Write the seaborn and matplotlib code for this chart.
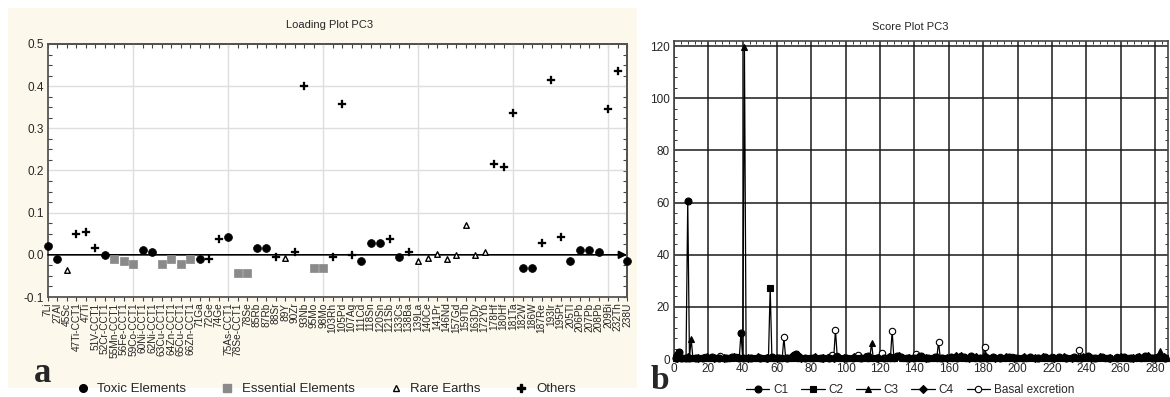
import numpy as np
import pandas as pd
import matplotlib
matplotlib.use("Agg")
import matplotlib.pyplot as plt
import seaborn as sns
from matplotlib.lines import Line2D
from matplotlib.patches import Rectangle

# ---------------- Panel a data: loadings PC3 ----------------
ELEMENTS = ["7Li", "27Al", "45Sc", "47Ti-CCT1", "47Ti", "51V-CCT1", "52Cr-CCT1", "55Mn-CCT1",
            "56Fe-CCT1", "59Co-CCT1", "60Ni-CCT1", "62Ni-CCT1", "63Cu-CCT1", "64Zn-CCT1",
            "65Cu-CCT1", "66Zn-CCT1", "71Ga", "72Ge", "74Ge", "75As-CCT1", "78Se-CCT1", "78Se",
            "85Rb", "87Rb", "88Sr", "89Y", "90Zr", "93Nb", "95Mo", "98Mo", "103Rh", "105Pd",
            "107Ag", "111Cd", "118Sn", "120Sn", "121Sb", "133Cs", "138Ba", "139La", "140Ce",
            "141Pr", "146Nd", "157Gd", "159Tb", "163Dy", "172Yb", "178Hf", "180Hf", "181Ta",
            "182W", "186W", "187Re", "193Ir", "195Pt", "205Tl", "206Pb", "207Pb", "208Pb",
            "209Bi", "232Th", "238U"]
LOADINGS = [0.021, -0.011, -0.037, 0.049, 0.054, 0.016, 0.000, -0.011,
            -0.015, -0.021, 0.011, 0.006, -0.021, -0.011,
            -0.021, -0.011, -0.011, -0.010, 0.037, 0.043, -0.042, -0.042,
            0.016, 0.016, -0.005, -0.007, 0.007, 0.400, -0.031, -0.031, -0.005, 0.358,
            0.000, -0.015, 0.027, 0.027, 0.038, -0.005, 0.007, -0.015, -0.007,
            0.001, -0.011, 0.000, 0.070, 0.000, 0.007, 0.215, 0.209, 0.336,
            -0.031, -0.031, 0.028, 0.415, 0.042, -0.015, 0.011, 0.011, 0.007,
            0.346, 0.437, -0.015]
GROUPS = ["Toxic Elements", "Toxic Elements", "Rare Earths", "Others", "Others", "Others",
          "Toxic Elements", "Essential Elements", "Essential Elements", "Essential Elements",
          "Toxic Elements", "Toxic Elements", "Essential Elements", "Essential Elements",
          "Essential Elements", "Essential Elements", "Toxic Elements", "Others", "Others",
          "Toxic Elements", "Essential Elements", "Essential Elements", "Toxic Elements",
          "Toxic Elements", "Others", "Rare Earths", "Others", "Others", "Essential Elements",
          "Essential Elements", "Others", "Others", "Others", "Toxic Elements", "Toxic Elements",
          "Toxic Elements", "Others", "Toxic Elements", "Others", "Rare Earths", "Rare Earths",
          "Rare Earths", "Rare Earths", "Rare Earths", "Rare Earths", "Rare Earths", "Rare Earths",
          "Others", "Others", "Others", "Toxic Elements", "Toxic Elements", "Others", "Others",
          "Others", "Toxic Elements", "Toxic Elements", "Toxic Elements", "Toxic Elements",
          "Others", "Others", "Toxic Elements"]
GROUP_ORDER = ["Toxic Elements", "Essential Elements", "Rare Earths", "Others"]

# ---------------- Panel b data: scores PC3 ----------------
C1_CASE = [1, 2, 3, 4, 7, 8, 9, 13, 17, 22, 26, 30, 34, 38, 39, 40, 45, 50, 54, 57, 61, 66, 70, 71,
           72, 76, 81, 86, 90, 95, 100, 104, 109, 113, 118, 122, 126, 130, 132, 136, 140, 144, 148,
           152, 156, 161, 165, 169, 173, 178, 182, 186, 190, 195, 199, 203, 207, 212, 216, 220, 224,
           228, 233, 237, 241, 245, 249, 253, 258, 262, 266, 270, 274, 278, 282, 286]
C1_SCORE = [0.5, 1.5, 2.8, 0.4, 0.3, 60.6, 0.3, 0.5, 0.3, 0.8, 0.4, 0.3, 0.6, 0.4, 10.1, 0.3, 0.5,
            0.3, 0.4, 0.9, 0.3, 0.4, 1.6, 2.0, 1.2, 0.4, 0.3, 0.5, 0.3, 0.6, 0.4, 0.3, 0.5, 1.2, 0.4,
            0.3, 0.6, 1.2, 0.8, 0.4, 0.5, 1.0, 0.4, 0.6, 0.3, 0.8, 0.4, 0.6, 1.0, 0.4, 0.5, 0.8, 0.4,
            0.6, 0.3, 0.5, 0.7, 0.4, 0.6, 0.3, 0.8, 0.4, 0.6, 0.5, 1.0, 0.4, 0.6, 0.3, 0.5, 0.8, 0.4,
            0.6, 1.0, 0.5, 0.7, 0.4]
C2_CASE = [1, 5, 10, 15, 20, 25, 31, 36, 42, 47, 52, 55, 56, 57, 62, 67, 73, 78, 84, 89, 96, 101,
           107, 112, 117, 123, 128, 134, 139, 145, 151, 157, 163, 168, 174, 180, 185, 191, 197, 202,
           208, 214, 219, 225, 231, 236, 242, 247, 253, 259, 264, 270, 275, 281, 286]
C2_SCORE = [0.3, 0.4, 0.2, 0.5, 0.3, 0.4, 0.3, 0.6, 0.3, 0.4, 0.3, 0.5, 27.3, 0.4, 0.3, 0.5, 0.3,
            0.4, 0.3, 0.5, 0.3, 0.4, 0.3, 0.5, 0.3, 0.4, 0.3, 0.5, 0.3, 0.4, 0.3, 0.5, 0.3, 0.4, 0.3,
            0.5, 0.3, 0.4, 0.3, 0.5, 0.3, 0.4, 0.3, 0.5, 0.3, 0.4, 0.3, 0.5, 0.3, 0.4, 0.3, 0.5, 0.3,
            0.4, 0.3]
C3_CASE = [1, 6, 9, 10, 11, 16, 21, 27, 33, 37, 40, 41, 42, 48, 53, 59, 65, 69, 75, 80, 85, 91, 97,
           102, 108, 114, 115, 116, 121, 127, 133, 138, 143, 149, 155, 160, 166, 171, 177, 183, 188,
           194, 200, 205, 211, 217, 222, 228, 234, 239, 245, 251, 256, 262, 268, 273, 279, 282, 283,
           284, 287]
C3_SCORE = [0.2, 0.3, 0.4, 7.8, 0.3, 0.2, 0.4, 0.3, 0.2, 0.4, 0.3, 119.8, 0.3, 0.2, 0.4, 0.3, 0.2,
            0.4, 0.3, 0.2, 0.4, 0.3, 0.2, 0.4, 0.3, 0.4, 6.2, 0.3, 0.2, 0.4, 0.3, 0.2, 0.4, 0.3, 0.2,
            0.4, 1.2, 0.3, 0.2, 0.4, 0.3, 0.2, 0.4, 0.3, 0.2, 0.4, 0.3, 0.2, 0.4, 0.3, 0.2, 0.4, 0.3,
            0.2, 0.4, 0.3, 0.2, 0.4, 3.0, 0.4, 0.3]
C4_CASE = [2, 8, 14, 19, 23, 29, 35, 43, 49, 54, 60, 68, 74, 82, 87, 93, 99, 105, 111, 119, 125,
           131, 137, 142, 147, 153, 159, 164, 167, 172, 176, 181, 187, 193, 198, 204, 210, 215, 221,
           227, 232, 238, 243, 248, 254, 260, 267, 271, 276, 280, 285]
C4_SCORE = [0.4, 0.6, 0.3, 0.8, 0.5, 0.4, 0.7, 0.4, 0.6, 0.3, 0.5, 0.7, 0.4, 0.6, 0.3, 0.5, 0.4,
            0.6, 0.8, 0.4, 0.6, 1.3, 0.5, 0.9, 0.4, 0.7, 0.5, 1.0, 1.3, 0.5, 0.9, 1.2, 0.5, 0.7, 0.4,
            0.8, 0.5, 0.7, 0.4, 0.9, 0.5, 0.7, 0.4, 0.9, 0.5, 0.6, 0.4, 0.9, 1.2, 0.5, 0.8]
BASAL_CASE = [1, 5, 12, 18, 24, 27, 32, 36, 44, 50, 58, 63, 64, 65, 72, 79, 85, 90, 92, 93, 94, 95,
              100, 107, 113, 118, 121, 124, 126, 127, 128, 135, 141, 146, 153, 154, 155, 162, 170,
              175, 180, 181, 182, 190, 197, 205, 212, 220, 228, 235, 236, 237, 244, 251, 258, 265,
              272, 279, 286]
BASAL_SCORE = [0.3, 0.5, 0.4, 0.6, 0.5, 1.2, 0.4, 0.6, 0.5, 0.4, 0.5, 0.4, 8.3, 0.3, 0.4, 0.5, 0.4,
               0.6, 1.5, 0.5, 11.2, 1.2, 0.5, 1.5, 0.4, 0.5, 2.4, 0.5, 0.4, 10.9, 0.4, 0.5, 1.8, 0.4,
               0.3, 6.7, 0.3, 0.5, 0.4, 0.5, 0.4, 4.6, 0.4, 0.8, 0.6, 0.4, 0.5, 0.6, 0.4, 0.5, 3.3,
               0.4, 0.5, 0.4, 0.7, 0.4, 0.5, 0.4, 0.5]

# ---------------- Style ----------------
sns.set_theme(style="white")
plt.rcParams["font.family"] = ["Liberation Sans", "DejaVu Sans"]

W, H = 1170, 397
fig = plt.figure(figsize=(11.7, 3.97), dpi=100)
fig.patch.set_facecolor("white")

def fx(px):
    return px / W

def fy(py):
    return 1 - py / H

# cream panel behind plot a
fig.patches.append(Rectangle((fx(8), fy(388)), fx(637) - fx(8), fy(8) - fy(388),
                             transform=fig.transFigure, facecolor="#fdf8ec",
                             edgecolor="none", zorder=-10))

# ---------------- Panel a ----------------
axa = fig.add_axes([fx(48), fy(297), fx(627) - fx(48), fy(44) - fy(297)])
axa.set_facecolor("white")

df = pd.DataFrame({"pos": np.arange(1, len(ELEMENTS) + 1), "element": ELEMENTS,
                   "loading": LOADINGS, "group": GROUPS})

style = {
    "Toxic Elements": dict(marker="o", s=32, color="black", edgecolor="black", linewidth=0.5),
    "Essential Elements": dict(marker="s", s=32, color="#8a8a8a", edgecolor="#8a8a8a", linewidth=0.5),
    "Rare Earths": dict(marker="^", s=16, color="white", edgecolor="black", linewidth=1.0),
    "Others": dict(marker="P", s=32, color="black", edgecolor="black", linewidth=0.2),
}
for g in GROUP_ORDER:
    sub = df[df["group"] == g]
    sns.scatterplot(data=sub, x="pos", y="loading", ax=axa, legend=False, zorder=4, clip_on=False,
                    **style[g])

axa.set_xlim(1, len(ELEMENTS))
axa.set_ylim(-0.1, 0.5)
axa.set_xticks(df["pos"])
axa.set_xticklabels(ELEMENTS, rotation=90, fontsize=7.3)
axa.set_yticks([-0.1, 0.0, 0.1, 0.2, 0.3, 0.4, 0.5])
axa.set_yticklabels(["-0.1", "0.0", "0.1", "0.2", "0.3", "0.4", "0.5"], fontsize=8.5)
axa.set_yticks(np.arange(-0.1, 0.5001, 0.025), minor=True)
axa.set_xlabel("")
axa.set_ylabel("")
axa.tick_params(axis="x", which="major", direction="out", length=3, width=0.8, pad=1,
                color="#444444", bottom=True)
axa.tick_params(axis="y", which="both", direction="in", length=3, width=0.8, pad=3,
                color="#444444", left=True)
axa.tick_params(axis="y", which="major", length=0)
for x in [10, 20, 30, 40, 50, 60]:
    axa.axvline(x, color="#dedede", lw=1.0, zorder=1)
for y in [0.1, 0.2, 0.3, 0.4]:
    axa.axhline(y, color="#dedede", lw=1.0, zorder=1)
for sp in axa.spines.values():
    sp.set_color("#555555")
    sp.set_linewidth(1.3)
sec_top = axa.secondary_xaxis("top")
sec_top.set_xticks(df["pos"], labels=[])
sec_top.tick_params(direction="in", length=3, width=0.8, color="#444444")
sec_right = axa.secondary_yaxis("right")
sec_right.set_yticks(np.arange(-0.1, 0.5001, 0.025), labels=[])
sec_right.tick_params(direction="in", length=3, width=0.8, color="#444444")
axa.annotate("", xy=(len(ELEMENTS), 0), xytext=(1, 0),
             arrowprops=dict(arrowstyle="-|>", color="black", lw=1.2, mutation_scale=12,
                             shrinkA=0, shrinkB=0), zorder=3)

fig.text(fx(330), fy(25), "Loading Plot PC3", ha="center", va="center", fontsize=8)
fig.text(fx(34), fy(382), "a", ha="left", va="baseline", fontsize=25, fontweight="bold",
         family=["Liberation Serif", "DejaVu Serif"])

leg_a = [
    Line2D([], [], linestyle="", marker="o", color="black", markersize=5.5),
    Line2D([], [], linestyle="", marker="s", color="#8a8a8a", markersize=5.5),
    Line2D([], [], linestyle="", marker="^", markerfacecolor="white", markeredgecolor="black",
           markersize=4.5, markeredgewidth=1.0),
    Line2D([], [], linestyle="", marker="P", color="black", markersize=5.5),
]
fig.legend(leg_a, GROUP_ORDER, loc="center", bbox_to_anchor=(fx(326), fy(389)), ncol=4,
           frameon=False, fontsize=9.5, handlelength=1.0, handletextpad=0.6,
           columnspacing=2.6, borderpad=0)

# ---------------- Panel b ----------------
axb = fig.add_axes([fx(674), fy(359), fx(1168) - fx(674), fy(41) - fy(359)])
axb.set_facecolor("white")
axb.set_axisbelow(True)

series = [
    ("C1", C1_CASE, C1_SCORE, dict(marker="o", markersize=5.0, markerfacecolor="black")),
    ("C2", C2_CASE, C2_SCORE, dict(marker="s", markersize=4.8, markerfacecolor="black")),
    ("C3", C3_CASE, C3_SCORE, dict(marker="^", markersize=5.0, markerfacecolor="black")),
    ("C4", C4_CASE, C4_SCORE, dict(marker="D", markersize=3.8, markerfacecolor="black")),
    ("Basal excretion", BASAL_CASE, BASAL_SCORE, dict(marker="o", markersize=4.6,
                                                      markerfacecolor="white")),
]
z_order = {"Basal excretion": 2}
for name, xs, ys, st in series:
    sns.lineplot(x=xs, y=ys, ax=axb, color="black", linewidth=0.9, markeredgecolor="black",
                 markeredgewidth=0.8, sort=False, estimator=None, legend=False,
                 zorder=z_order.get(name, 3), clip_on=False, **st)

axb.set_xlim(0, 287.6)
axb.set_ylim(0, 122)
axb.set_xticks(np.arange(0, 281, 20))
axb.set_yticks(np.arange(0, 121, 20))
axb.set_xticks(np.arange(0, 288, 4), minor=True)
axb.set_yticks(np.arange(0, 122, 4), minor=True)
axb.tick_params(axis="both", which="major", labelsize=8.5, direction="in", length=0, pad=3)
axb.tick_params(axis="both", which="minor", direction="in", length=2, width=0.7,
                color="#333333", top=True, right=True, bottom=False, left=True)
axb.grid(True, which="major", color="#1a1a1a", lw=1.1)
axb.set_xlabel("")
axb.set_ylabel("")
for sp in axb.spines.values():
    sp.set_color("#444444")
    sp.set_linewidth(1.2)

fig.text(fx(910), fy(27), "Score Plot PC3", ha="center", va="center", fontsize=8)
fig.text(fx(651), fy(396), "b", ha="left", va="bottom", fontsize=24, fontweight="bold",
         family=["Liberation Serif", "DejaVu Serif"])

leg_b = []
for name, xs, ys, st in series:
    leg_b.append(Line2D([], [], color="black", linewidth=0.9, markeredgecolor="black",
                        markeredgewidth=0.8, **st))
fig.legend(leg_b, [s[0] for s in series], loc="center", bbox_to_anchor=(fx(910), fy(390)),
           ncol=5, frameon=False, fontsize=8.5, handlelength=2.0, handletextpad=0.3,
           columnspacing=1.1, borderpad=0)

fig.savefig("out.png", dpi=100)
